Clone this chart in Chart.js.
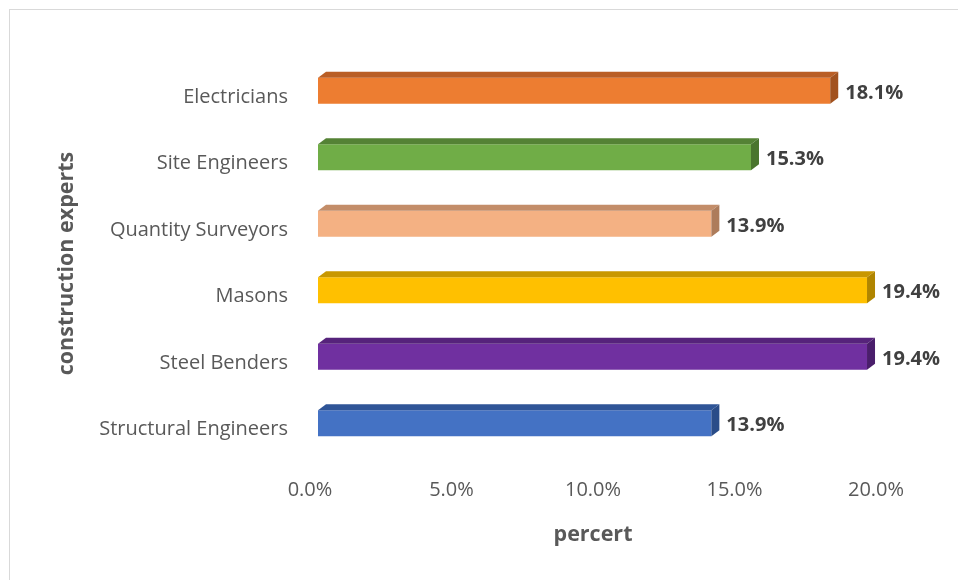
<!DOCTYPE html>
<html>
<head>
<meta charset="utf-8">
<script src="https://cdn.jsdelivr.net/npm/chart.js@4.4.1/dist/chart.umd.min.js"></script>
<style>
    body { margin: 0; background: #fff; }
    #wrap { position: relative; width: 958px; height: 580px; overflow: hidden; }
    #frame { position: absolute; left: 9px; top: 9px; width: 980px; height: 600px; border: 1px solid #d9d9d9; }
    canvas { position: absolute; left: 0; top: 0; }
</style>
</head>
<body>
<div id="wrap">
    <div id="frame"></div>
    <canvas id="chart" width="958" height="580"></canvas>
</div>
<script>
// categories, top to bottom
const categories = ['Electricians', 'Site Engineers', 'Quantity Surveyors', 'Masons', 'Steel Benders', 'Structural Engineers'];
// percent of construction experts
const values = [18.1, 15.3, 13.9, 19.4, 19.4, 13.9];
const xTicks = [0, 5, 10, 15, 20];

// front, top and side face colours for each bar
const frontColors = ['#ED7D31', '#70AD47', '#F4B183', '#FFC000', '#7030A0', '#4472C4'];
const topColors = ['#BA5E25', '#548235', '#C38D69', '#C89700', '#56237B', '#2F5597'];
const sideColors = ['#A2521F', '#4A752E', '#AD7C5B', '#B08500', '#4A1E6B', '#2A4C88'];

const depthX = 8, depthY = 6, lift = 6.5;
const fontFamily = '"Open Sans", sans-serif';

// draws the bars as Excel-like 3D blocks on top of the bar elements
const bars3d = {
    id: 'bars3d',
    afterDatasetsDraw(chart) {
        const ctx = chart.ctx;
        const meta = chart.getDatasetMeta(0);
        meta.data.forEach((bar, i) => {
            const x0 = bar.base + depthX;
            const x1 = bar.x + depthX;
            const yt = bar.y - lift - bar.height / 2;
            const yb = bar.y - lift + bar.height / 2;
            ctx.save();
            // front
            ctx.fillStyle = frontColors[i];
            ctx.fillRect(x0, yt, x1 - x0, yb - yt);
            // top
            ctx.fillStyle = topColors[i];
            ctx.beginPath();
            ctx.moveTo(x0, yt);
            ctx.lineTo(x1, yt);
            ctx.lineTo(x1 + depthX, yt - depthY);
            ctx.lineTo(x0 + depthX, yt - depthY);
            ctx.closePath();
            ctx.fill();
            // side
            ctx.fillStyle = sideColors[i];
            ctx.beginPath();
            ctx.moveTo(x1, yt);
            ctx.lineTo(x1 + depthX, yt - depthY);
            ctx.lineTo(x1 + depthX, yb - depthY);
            ctx.lineTo(x1, yb);
            ctx.closePath();
            ctx.fill();
            // value label
            ctx.fillStyle = '#404040';
            ctx.font = 'bold 20px ' + fontFamily;
            ctx.textAlign = 'left';
            ctx.textBaseline = 'middle';
            ctx.fillText(values[i].toFixed(1) + '%', x1 + depthX + 7, bar.y - 4);
            ctx.restore();
        });
    }
};

new Chart(document.getElementById('chart').getContext('2d'), {
    type: 'bar',
    data: {
        labels: categories,
        datasets: [{
            data: values,
            backgroundColor: 'rgba(0,0,0,0)',
            barThickness: 26
        }]
    },
    options: {
        indexAxis: 'y',
        responsive: false,
        animation: false,
        layout: {
            padding: { left: 48, top: 64, right: 82, bottom: 22 }
        },
        plugins: {
            legend: { display: false },
            tooltip: { enabled: false }
        },
        scales: {
            x: {
                min: 0,
                max: 20,
                afterBuildTicks: scale => {
                    scale.ticks = xTicks.map(v => ({ value: v }));
                },
                afterFit: scale => { scale.height = 95; },
                grid: { display: false, drawTicks: false },
                border: { display: false },
                ticks: {
                    padding: 15,
                    color: '#595959',
                    font: { family: fontFamily, size: 20 },
                    callback: v => v.toFixed(1) + '%'
                },
                title: {
                    display: true,
                    text: 'percert',
                    color: '#595959',
                    font: { family: fontFamily, size: 21.5, weight: 'bold' },
                    padding: { top: 0, bottom: 10 }
                }
            },
            y: {
                afterFit: scale => { scale.width = 262; },
                grid: { display: false, drawTicks: false },
                border: { display: false },
                ticks: {
                    padding: 22,
                    color: '#595959',
                    font: { family: fontFamily, size: 20 }
                },
                title: {
                    display: true,
                    text: 'construction experts',
                    color: '#595959',
                    font: { family: fontFamily, size: 21.5, weight: 'bold' },
                    padding: { top: 6, bottom: 0 }
                }
            }
        }
    },
    plugins: [bars3d]
});
</script>
</body>
</html>
